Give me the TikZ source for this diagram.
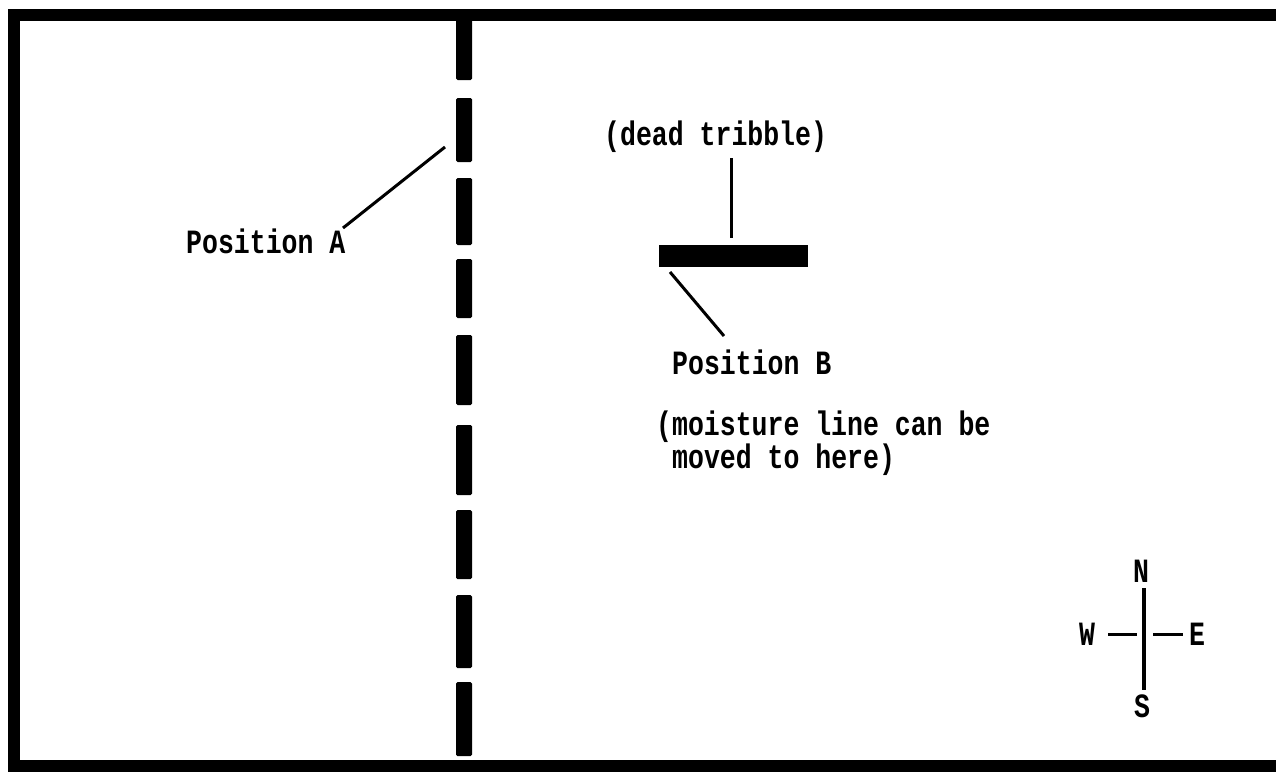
\documentclass[tikz,border=0pt]{standalone}
\usepackage{fontspec}
\newfontfamily\typer{Liberation Mono}[FakeStretch=0.78]
\begin{document}
\begin{tikzpicture}[x=1pt,y=-1pt,
  lbl/.style={font=\typer\bfseries\fontsize{34}{33}\selectfont, inner sep=0pt, anchor=base west},
  cmp/.style={font=\typer\bfseries\fontsize{34}{33}\selectfont, inner sep=0pt},
  leader/.style={line width=3pt},
  wallseg/.style={fill=black, rounded corners=1.5pt}]
\useasboundingbox (0,0) rectangle (1276,771);
\fill[white] (0,0) rectangle (1276,771);

% room outline (open towards the east edge)
\draw[line width=12pt, line join=miter] (1276,14.5) -- (14,14.5) -- (14,766) -- (1276,766);

% moisture line, drawn as heavy dashes
\foreach \a/\b in {14/80, 98/162, 178/245, 259/318, 335/405, 425/495, 510/579, 595/668, 682/756}
  \fill[wallseg] (456,\a) rectangle (472,\b);

% dead tribble
\node[fill=black, minimum width=149pt, minimum height=22pt, inner sep=0pt] (tribble) at (733.5,256) {};

% labels
\node[lbl] (posA) at (186,253) {Position A};
\node[lbl] (dead) at (604,145) {(dead tribble)};
\node[lbl] (posB) at (672,374) {Position B};
\node[lbl] (note1) at (656,435) {(moisture line can be};
\node[lbl] (note2) at (672,468) {moved to here)};

% leader lines
\coordinate (aEnd) at (343,228);
\coordinate (wallA) at (445,147);
\draw[leader] (aEnd) -- (wallA);
\coordinate (deadTop) at (731,158);
\coordinate (deadBot) at (731,238);
\draw[leader] (deadTop) -- (deadBot);
\coordinate (bTop) at (670,272);
\coordinate (bEnd) at (724,336);
\draw[leader] (bTop) -- (bEnd);

% compass
\node[cmp] (N) at (1141,571) {N};
\node[cmp] (S) at (1142,706) {S};
\node[cmp] (W) at (1087,634) {W};
\node[cmp] (E) at (1197,634) {E};
\coordinate (nLine) at (1144,588);
\coordinate (sLine) at (1144,690);
\draw[line width=3.5pt] (nLine) -- (sLine);
\coordinate (w1) at (1108,634);
\coordinate (w2) at (1137,634);
\coordinate (e1) at (1153,634);
\coordinate (e2) at (1183,634);
\draw[line width=3pt] (w1) -- (w2);
\draw[line width=3pt] (e1) -- (e2);
\end{tikzpicture}
\end{document}
